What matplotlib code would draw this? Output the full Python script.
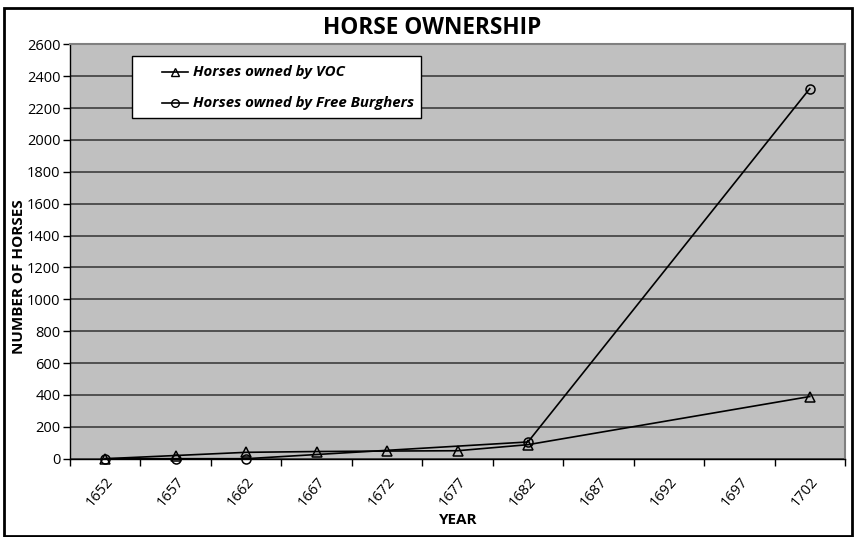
import numpy as np
import matplotlib
matplotlib.use("Agg")
import matplotlib.pyplot as plt
from matplotlib.patches import Rectangle
from matplotlib.lines import Line2D

years = [1652, 1657, 1662, 1667, 1672, 1677, 1682, 1687, 1692, 1697, 1702]
voc = [0, 20, 40, 45, 48, 50, 88, np.nan, np.nan, np.nan, 390]
burghers = [0, 0, 0, np.nan, np.nan, np.nan, 105, np.nan, np.nan, np.nan, 2322]
yticks = list(range(0, 2601, 200))
series_names = ['Horses owned by VOC', 'Horses owned by Free Burghers']

plt.rcParams['font.family'] = ['Open Sans', 'DejaVu Sans']

W, H = 855, 537
fig = plt.figure(figsize=(8.55, 5.37), dpi=100)
ax = fig.add_axes([70/W, 1-458.7/H, (845-70)/W, (458.7-44.3)/H])
ax.set_facecolor('#C0C0C0')

x = np.arange(len(years))
markers = ['^', 'o']
for vals, mk in zip([voc, burghers], markers):
    v = np.array(vals, dtype=float)
    m = ~np.isnan(v)
    ax.plot(x[m], v[m], color='black', lw=1.2, marker=mk, markersize=6.5,
            markerfacecolor='none', markeredgecolor='black', markeredgewidth=1.1,
            zorder=3, clip_on=False)

ax.set_xlim(-0.5, len(years)-0.5)
ax.set_ylim(0, 2600)
ax.set_yticks(yticks)
ax.set_yticklabels([str(t) for t in yticks], fontsize=10.5)
ax.yaxis.grid(True, color='#333333', lw=1.1)
ax.set_axisbelow(True)

ax.set_xticks(np.arange(-0.5, len(years)), minor=False)
ax.set_xticklabels([])
ax.set_xticks(x, minor=True)
ax.set_xticklabels([str(y) for y in years], minor=True, rotation=50,
                   ha='right', va='top', rotation_mode='anchor', fontsize=10.5)
ax.tick_params(axis='x', which='minor', length=0, pad=11)
ax.tick_params(axis='x', which='major', length=5, width=1, color='black', direction='out')
ax.tick_params(axis='y', length=5, width=1, color='black', direction='out', pad=2)

for s in ['top', 'right']:
    ax.spines[s].set_color('#808080')
    ax.spines[s].set_linewidth(1.5)
for s in ['left', 'bottom']:
    ax.spines[s].set_color('black')
    ax.spines[s].set_linewidth(1)

ax.set_ylabel('NUMBER OF HORSES', fontsize=11, fontweight='bold')
ax.yaxis.set_label_coords((26-70)/775, (458.7-277)/414.4)
ax.set_xlabel('YEAR', fontsize=11, fontweight='bold')
ax.xaxis.set_label_coords((458-70)/775, (458.7-513)/414.4)

fig.text(432/W, 1-28/H, 'HORSE OWNERSHIP', ha='center', va='center',
         fontsize=16.3, fontweight='bold')

def fx(px): return px / W
def fy(py): return 1 - py / H

fig.patches.append(Rectangle((fx(131.7), fy(118.3)), fx(420.7)-fx(131.7), fy(55.7)-fy(118.3),
                             transform=fig.transFigure, facecolor='white',
                             edgecolor='black', lw=1, zorder=5))
for i, (name, mk) in enumerate(zip(series_names, markers)):
    yy = [72, 103][i]
    fig.lines.append(Line2D([fx(162), fx(188)], [fy(yy), fy(yy)], transform=fig.transFigure,
                            color='black', lw=1.2, zorder=6))
    fig.lines.append(Line2D([fx(175)], [fy(yy)], transform=fig.transFigure,
                            marker=mk, markersize=5.5, markerfacecolor='none',
                            markeredgecolor='black', markeredgewidth=1.0, zorder=6))
    fig.text(fx(193), fy(yy), name, ha='left', va='center', fontsize=10.8,
             fontweight='bold', style='italic', zorder=7)

fig.patches.append(Rectangle((4/W, 0.002), 848/W, 1-8/H-0.002,
                             transform=fig.transFigure, fill=False,
                             edgecolor='black', lw=2))

fig.savefig('out.png', dpi=100)
